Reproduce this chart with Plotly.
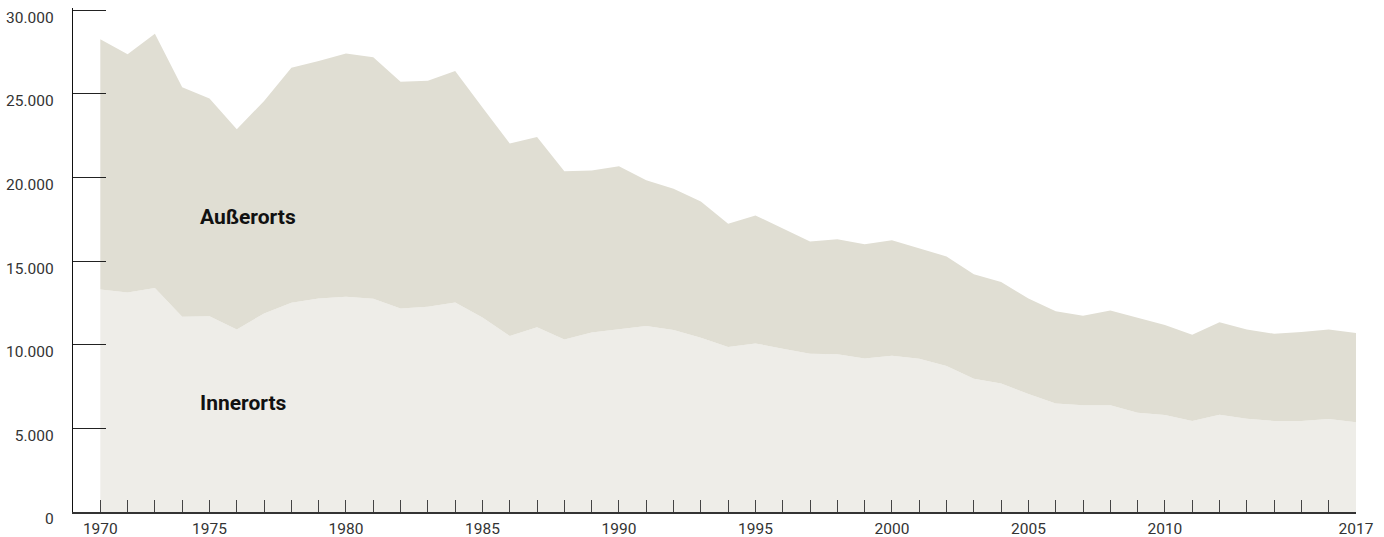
import plotly.graph_objects as go

# Jahre (Datenpunkte)
years = list(range(1971, 2018))

# Verunglückte innerorts
innerorts = [
    13310, 13130, 13400, 11670, 11710, 10920, 11870, 12510, 12770, 12870,
    12750, 12170, 12270, 12530, 11630, 10520, 11040, 10320, 10740, 10940,
    11120, 10880, 10420, 9860, 10080, 9760, 9460, 9440, 9180, 9340,
    9160, 8730, 7970, 7690, 7050, 6490, 6390, 6390, 5940, 5800,
    5440, 5820, 5580, 5440, 5440, 5560, 5360,
]

# Verunglückte außerorts
ausserorts = [
    14960, 14240, 15200, 13730, 13010, 11970, 12710, 14060, 14200, 14540,
    14440, 13550, 13510, 13840, 12550, 11510, 11390, 10060, 9680, 9740,
    8720, 8450, 8150, 7370, 7650, 7210, 6710, 6870, 6830, 6910,
    6600, 6550, 6240, 6060, 5720, 5520, 5340, 5660, 5680, 5380,
    5160, 5520, 5340, 5220, 5320, 5360, 5340,
]

# Beschriftete Jahre auf der x-Achse
x_label_positions = [1971, 1975, 1980, 1985, 1990, 1995, 2000, 2005, 2010, 2017]
x_label_texts = ["1970", "1975", "1980", "1985", "1990", "1995", "2000", "2005", "2010", "2017"]

y_tick_values = [0, 5000, 10000, 15000, 20000, 25000, 30000]
y_tick_texts = ["0", "5.000", "10.000", "15.000", "20.000", "25.000", "30.000"]

FONT = "Roboto, Liberation Sans, sans-serif"
COL_INNER = "#EEEDE8"
COL_AUSSER = "#E0DED3"

fig = go.Figure()
fig.add_trace(go.Scatter(
    x=years, y=innerorts, name="Innerorts", stackgroup="one",
    mode="lines", line=dict(width=0, color=COL_INNER), fillcolor=COL_INNER,
    hoverinfo="x+y",
))
fig.add_trace(go.Scatter(
    x=years, y=ausserorts, name="Außerorts", stackgroup="one",
    mode="lines", line=dict(width=0, color=COL_AUSSER), fillcolor=COL_AUSSER,
    hoverinfo="x+y",
))

# Tick an jedem Jahr, Beschriftung nur an ausgewählten Jahren
label_map = dict(zip(x_label_positions, x_label_texts))
tickvals = years
ticktext = [label_map.get(y, "") for y in years]

fig.update_xaxes(
    range=[1970, 2017], automargin=False,
    tickmode="array", tickvals=tickvals, ticktext=ticktext,
    ticks="inside", ticklen=12, tickwidth=1, tickcolor="#444444",
    showline=True, linecolor="#333333", linewidth=1.5,
    showgrid=False, zeroline=False,
    tickfont=dict(family=FONT, size=15.5, color="#333333"),
    ticklabelstandoff=2,
)
fig.update_yaxes(
    range=[0, 30137], automargin=False,
    tickmode="array", tickvals=y_tick_values, ticktext=y_tick_texts,
    ticks="inside", ticklen=33, tickwidth=1.2, tickcolor="#222222",
    showline=True, linecolor="#111111", linewidth=1.3,
    showgrid=False, zeroline=False,
    tickfont=dict(family=FONT, size=15.5, color="#333333"),
    ticklabelstandoff=15, ticklabelshift=7,
    ticklabeloverflow="allow",
)

fig.add_annotation(x=1974.58, y=17630, text="<b>Außerorts</b>", showarrow=False,
                   xanchor="left", yanchor="middle",
                   font=dict(family=FONT, size=21, color="#111111"))
fig.add_annotation(x=1974.58, y=6540, text="<b>Innerorts</b>", showarrow=False,
                   xanchor="left", yanchor="middle",
                   font=dict(family=FONT, size=21, color="#111111"))

fig.update_layout(
    width=1384, height=537,
    margin=dict(l=73, r=28, t=8, b=25),
    paper_bgcolor="white", plot_bgcolor="white",
    showlegend=False,
)

fig.write_html("out.html")
